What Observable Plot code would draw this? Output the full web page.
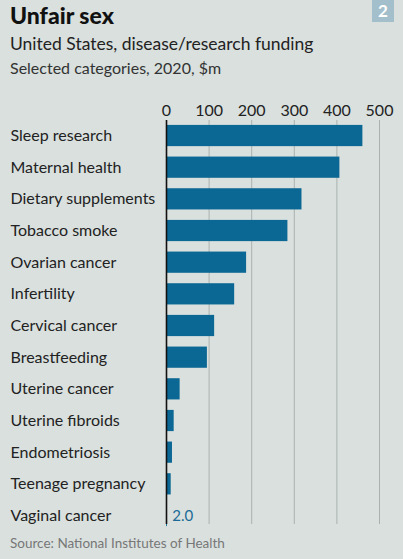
<!DOCTYPE html>
<html>
<head>
<meta charset="utf-8">
<script src="https://cdn.jsdelivr.net/npm/d3@7"></script>
<script src="https://cdn.jsdelivr.net/npm/@observablehq/plot@0.6"></script>
<style>
  body { margin: 0; background: #d9e0de; font-family: Lato, "Noto Sans", sans-serif; }
  #wrap { position: relative; width: 403px; height: 559px; overflow: hidden; }
  #badge { position: absolute; left: 372px; top: 0; width: 22px; height: 22px; background: #a4bfcc;
           color: #fff; font-weight: bold; font-size: 17px; text-align: center; line-height: 22px; }
  #title { position: absolute; left: 10px; top: 1px; font-size: 23px; font-weight: 900; color: #111; }
  #sub { position: absolute; left: 10px; top: 33px; font-size: 17.5px; color: #222; }
  #sub2 { position: absolute; left: 10px; top: 58px; font-size: 16px; color: #333; }
  #chart { position: absolute; left: 0; top: 88px; }
  #chart svg { display: block; }
  #source { position: absolute; left: 10px; top: 535px; font-size: 13.5px; color: #777; }
</style>
</head>
<body>
<div id="wrap">
  <div id="badge">2</div>
  <div id="title">Unfair sex</div>
  <div id="sub">United States, disease/research funding</div>
  <div id="sub2">Selected categories, 2020, $m</div>
  <div id="chart"></div>
  <div id="source">Source: National Institutes of Health</div>
</div>
<script>
const categories = ["Sleep research", "Maternal health", "Dietary supplements", "Tobacco smoke",
  "Ovarian cancer", "Infertility", "Cervical cancer", "Breastfeeding", "Uterine cancer",
  "Uterine fibroids", "Endometriosis", "Teenage pregnancy", "Vaginal cancer"];
const funding = [461, 407, 318, 285, 188, 160, 113, 96, 32, 18, 14, 11, 2.0];
const xTicks = [0, 100, 200, 300, 400, 500];

const rows = categories.map((name, i) => ({name, value: funding[i]}));

const plot = Plot.plot({
  width: 403,
  height: 446,
  marginTop: 32,
  marginBottom: 3,
  marginLeft: 166,
  marginRight: 24,
  style: {background: "transparent", fontFamily: "Lato, 'Noto Sans', sans-serif"},
  x: {domain: [0, 500], axis: null},
  y: {domain: categories, paddingInner: 0.33, paddingOuter: 0.155, round: false, axis: null},
  marks: [
    Plot.ruleX(xTicks.slice(1), {stroke: "#aab2b1", strokeWidth: 1, insetBottom: 7}),
    Plot.axisX(xTicks, {anchor: "top", tickSize: 0, tickPadding: 5, fontSize: 16, fill: "#222", label: null}),
    Plot.barX(rows, {y: "name", x: "value", fill: "#0b6794"}),
    Plot.ruleX([0], {stroke: "#111", strokeWidth: 1.6, insetBottom: 7}),
    Plot.text(rows, {y: "name", text: "name", frameAnchor: "left", textAnchor: "start", dx: -156,
      fontSize: 16, fill: "#222"}),
    Plot.text(rows.filter(d => d.name === "Vaginal cancer"), {y: "name", x: "value", text: d => d.value.toFixed(1),
      textAnchor: "start", dx: 5, fontSize: 15, fill: "#1b6a96"})
  ]
});
document.getElementById("chart").append(plot);
</script>
</body>
</html>
